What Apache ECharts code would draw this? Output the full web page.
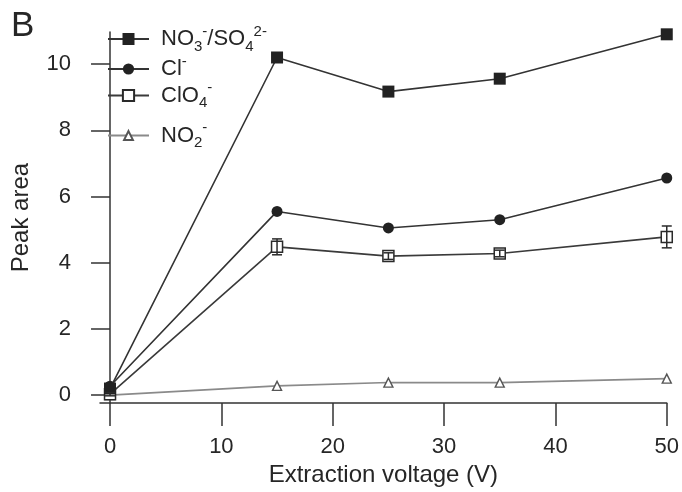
<!DOCTYPE html>
<html>
<head>
<meta charset="utf-8">
<script src="https://cdn.jsdelivr.net/npm/echarts@6/dist/echarts.min.js"></script>
<style>
  html, body { margin: 0; padding: 0; background: #fff; }
  #chart { width: 682px; height: 492px; }
</style>
</head>
<body>
<div id="chart"></div>
<script>
// Extraction voltage (V) and peak areas per anion
const voltage = [0, 15, 25, 35, 50];
const no3so4 = [0.2, 10.2, 9.17, 9.56, 10.9];
const chloride = [0.27, 5.55, 5.05, 5.3, 6.56];
const perchlorate = [0.03, 4.48, 4.2, 4.28, 4.78];
const perchlorateErr = [0.05, 0.24, 0.1, 0.1, 0.33];
const nitrite = [0, 0.28, 0.38, 0.38, 0.5];

const xTicks = [0, 10, 20, 30, 40, 50];
const yTicks = [0, 2, 4, 6, 8, 10];

const FONT = 'Liberation Sans, Arial, Helvetica, sans-serif';
const INK = '#262626';
const AXIS = '#333';

const pairs = (ys) => voltage.map((x, i) => [x, ys[i]]);

// rich text styles for chemical formulas (subscripts / superscripts)
const rich = {
  a:  { fontSize: 22, lineHeight: 30, color: INK, fontFamily: FONT, padding: [0, 0, 0, 7] },
  m:  { fontSize: 22, lineHeight: 30, color: INK, fontFamily: FONT },
  sb: { fontSize: 15, lineHeight: 15, color: INK, fontFamily: FONT, padding: [15, 0, 0, 0] },
  sp: { fontSize: 15, lineHeight: 15, color: INK, fontFamily: FONT, padding: [0, 0, 15, 0] }
};
const formulas = {
  'NO3-/SO42-': '{a|NO}{sb|3}{sp|-}{m|/SO}{sb|4}{sp|2-}',
  'Cl-': '{a|Cl}{sp|-}',
  'ClO4-': '{a|ClO}{sb|4}{sp|-}',
  'NO2-': '{a|NO}{sb|2}{sp|-}'
};

function legendRow(name, centerY, itemHeight) {
  return {
    data: [name],
    orient: 'vertical',
    left: 107,
    top: centerY - itemHeight / 2,
    padding: 0,
    itemWidth: 41,
    itemHeight: itemHeight,
    selectedMode: false,
    formatter: (n) => formulas[n],
    textStyle: { rich: rich, color: INK, fontFamily: FONT }
  };
}

const chart = echarts.init(document.getElementById('chart'), null, { renderer: 'canvas' });

chart.setOption({
  animation: false,
  backgroundColor: '#fff',
  title: {
    text: 'B',
    left: 11,
    top: 9,
    padding: 0,
    textStyle: { fontSize: 35, fontWeight: 'normal', color: INK, fontFamily: FONT }
  },
  legend: [
    legendRow('NO3-/SO42-', 31.5, 15),
    legendRow('Cl-', 61, 14),
    legendRow('ClO4-', 87.5, 14),
    legendRow('NO2-', 126, 11)
  ],
  grid: { left: 100, right: 15, top: 32, bottom: 88 },
  xAxis: {
    type: 'value',
    min: -0.9,
    max: 50,
    name: 'Extraction voltage (V)',
    nameLocation: 'middle',
    nameGap: 58,
    nameTextStyle: { fontSize: 24, color: INK, fontFamily: FONT },
    axisLine: { onZero: false, lineStyle: { color: AXIS, width: 1.5 } },
    axisTick: { show: true, inside: false, length: 23, customValues: xTicks, lineStyle: { color: AXIS, width: 1.5 } },
    axisLabel: { customValues: xTicks, margin: 33, fontSize: 22, color: INK, fontFamily: FONT },
    splitLine: { show: false }
  },
  yAxis: {
    type: 'value',
    min: -0.24,
    max: 10.97,
    name: 'Peak area',
    nameLocation: 'middle',
    nameGap: 67,
    nameTextStyle: { fontSize: 24, color: INK, fontFamily: FONT },
    axisLine: { show: true, lineStyle: { color: AXIS, width: 1.5 } },
    axisTick: { show: true, inside: false, length: 19, customValues: yTicks, lineStyle: { color: AXIS, width: 1.5 } },
    axisLabel: { customValues: yTicks, margin: 29, fontSize: 22, color: INK, fontFamily: FONT },
    splitLine: { show: false }
  },
  series: [
    {
      name: 'NO2-',
      type: 'line',
      data: pairs(nitrite),
      symbol: 'triangle',
      symbolSize: 9,
      z: 2,
      lineStyle: { color: '#8a8a8a', width: 1.6 },
      itemStyle: { color: '#fff', borderColor: '#555', borderWidth: 1.4 }
    },
    {
      name: 'ClO4-',
      type: 'line',
      data: pairs(perchlorate),
      symbol: 'rect',
      symbolSize: 11,
      z: 3,
      lineStyle: { color: '#3a3a3a', width: 1.6 },
      itemStyle: { color: '#fff', borderColor: '#2a2a2a', borderWidth: 1.5 }
    },
    {
      name: 'Cl-',
      type: 'line',
      data: pairs(chloride),
      symbol: 'circle',
      symbolSize: 11,
      z: 4,
      lineStyle: { color: '#333', width: 1.6 },
      itemStyle: { color: '#222' }
    },
    {
      name: 'NO3-/SO42-',
      type: 'line',
      data: pairs(no3so4),
      symbol: 'rect',
      symbolSize: 12,
      z: 5,
      lineStyle: { color: '#333', width: 1.6 },
      itemStyle: { color: '#222' }
    },
    {
      // error bars on the perchlorate points
      name: 'ClO4- error',
      type: 'custom',
      z: 6,
      silent: true,
      data: voltage.map((x, i) => [x, perchlorate[i] - perchlorateErr[i], perchlorate[i] + perchlorateErr[i]]),
      renderItem: (params, api) => {
        const lo = api.coord([api.value(0), api.value(1)]);
        const hi = api.coord([api.value(0), api.value(2)]);
        const cap = 5;
        const style = { stroke: '#2a2a2a', lineWidth: 1.5, fill: null };
        return {
          type: 'group',
          children: [
            { type: 'line', shape: { x1: lo[0], y1: lo[1], x2: hi[0], y2: hi[1] }, style },
            { type: 'line', shape: { x1: lo[0] - cap, y1: lo[1], x2: lo[0] + cap, y2: lo[1] }, style },
            { type: 'line', shape: { x1: hi[0] - cap, y1: hi[1], x2: hi[0] + cap, y2: hi[1] }, style }
          ]
        };
      }
    }
  ]
});
</script>
</body>
</html>
